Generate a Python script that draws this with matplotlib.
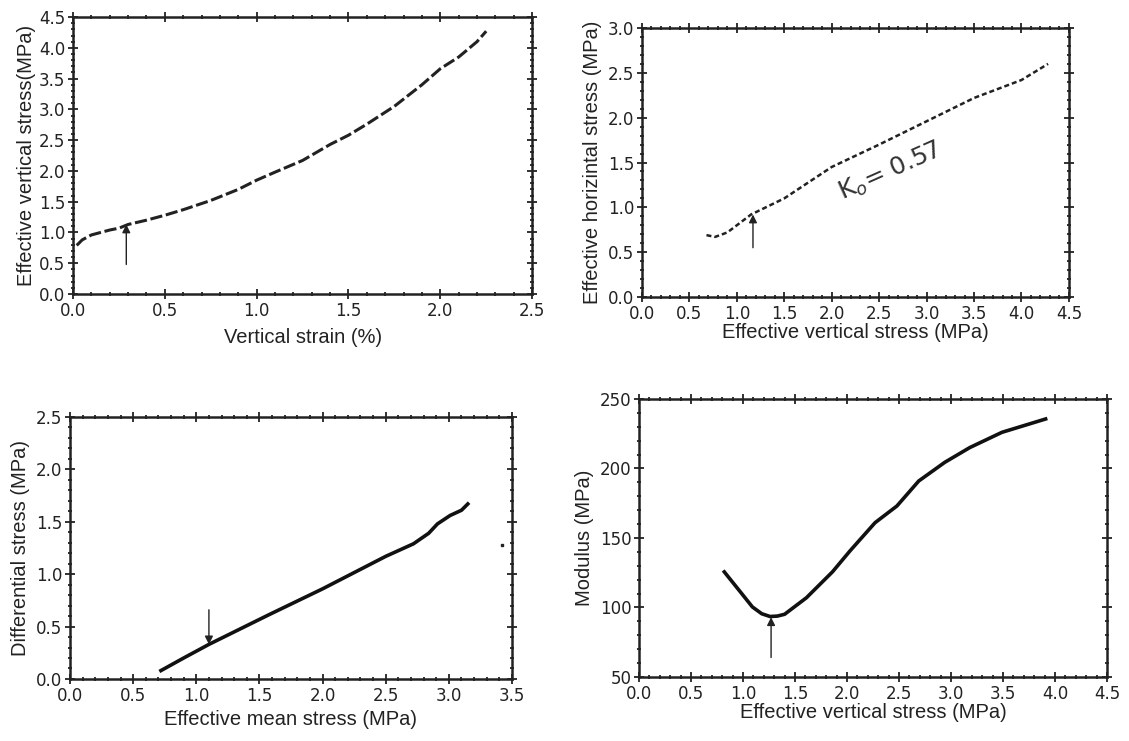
import matplotlib.pyplot as plt
from matplotlib.ticker import MultipleLocator

# panel (a): vertical strain vs effective vertical stress
strain = [0.02, 0.05, 0.10, 0.20, 0.25, 0.30, 0.40, 0.50, 0.60, 0.75, 0.90, 1.00,
          1.10, 1.25, 1.40, 1.50, 1.60, 1.75, 1.90, 2.00, 2.10, 2.20, 2.25]
sv_a = [0.79, 0.88, 0.96, 1.04, 1.07, 1.13, 1.20, 1.28, 1.37, 1.52, 1.70, 1.85,
        1.98, 2.17, 2.43, 2.58, 2.76, 3.05, 3.40, 3.66, 3.85, 4.10, 4.27]

# panel (b): effective vertical vs horizontal stress
sv_b = [0.68, 0.77, 0.90, 1.00, 1.15, 1.50, 2.00, 2.50, 3.00, 3.50, 4.00, 4.28]
sh_b = [0.69, 0.67, 0.72, 0.80, 0.92, 1.10, 1.45, 1.70, 1.96, 2.22, 2.42, 2.60]

# panel (c): effective mean stress vs differential stress
pm = [0.72, 0.90, 1.10, 1.57, 2.00, 2.50, 2.72, 2.84, 2.91, 3.01, 3.10, 3.15]
q = [0.08, 0.20, 0.33, 0.61, 0.86, 1.17, 1.29, 1.39, 1.48, 1.56, 1.61, 1.67]
stray_x = [3.42]
stray_y = [1.28]

# panel (d): effective vertical stress vs modulus
sv_d = [0.82, 0.98, 1.09, 1.18, 1.26, 1.33, 1.40, 1.61, 1.86, 2.03, 2.27, 2.48,
        2.69, 2.94, 3.18, 3.49, 3.91]
mod = [125.6, 110.7, 100.4, 95.5, 93.5, 93.8, 95.1, 107.0, 125.6, 140.8, 161.0,
       173.0, 191.0, 204.4, 215.0, 226.0, 235.6]

plt.rcParams['font.family'] = ['DejaVu Sans']

fig = plt.figure(figsize=(11.29, 7.41), dpi=100)
ax1 = fig.add_axes([0.0647, 0.6032, 0.4066, 0.3738])
ax2 = fig.add_axes([0.5686, 0.5992, 0.3782, 0.3630])
ax3 = fig.add_axes([0.0620, 0.0837, 0.3915, 0.3536])
ax4 = fig.add_axes([0.5660, 0.0864, 0.4145, 0.3752])

lab = dict(fontsize=14.5, family='Liberation Sans', color='#222222')


def style(ax, xmaj, ymaj, xmin, ymin):
    ax.xaxis.set_major_locator(MultipleLocator(xmaj))
    ax.yaxis.set_major_locator(MultipleLocator(ymaj))
    ax.xaxis.set_minor_locator(MultipleLocator(xmin))
    ax.yaxis.set_minor_locator(MultipleLocator(ymin))
    ax.tick_params(which='both', direction='inout', top=True, right=True,
                   colors='#222222', labelsize=12, pad=2)
    ax.tick_params(which='major', length=7, width=1.3)
    ax.tick_params(which='minor', length=3.5, width=1.3)
    for s in ax.spines.values():
        s.set_linewidth(1.8)
        s.set_color('#222222')


def arrow(ax, x, y0, y1):
    ax.annotate('', xy=(x, y1), xytext=(x, y0),
                arrowprops=dict(arrowstyle='-|>', lw=1.0, color='#222222',
                                mutation_scale=12, shrinkA=0, shrinkB=0))


# (a)
ax1.plot(strain, sv_a, color='#222222', lw=2.2, ls=(0, (4, 1.2)))
arrow(ax1, 0.29, 0.48, 1.13)
ax1.set_xlim(0, 2.5)
ax1.set_ylim(0, 4.5)
style(ax1, 0.5, 0.5, 0.1, 0.1)
ax1.xaxis.set_major_formatter('{x:.1f}')
ax1.yaxis.set_major_formatter('{x:.1f}')
ax1.set_xlabel('Vertical strain (%)', labelpad=6, **lab)
ax1.set_ylabel('Effective vertical stress(MPa)', labelpad=2, **lab)

# (b)
ax2.plot(sv_b, sh_b, color='#222222', lw=1.8, ls=(0, (2, 1.2)))
arrow(ax2, 1.17, 0.55, 0.92)
ax2.text(2.62, 1.40, 'K$_o$= 0.57', rotation=24, fontsize=18, ha='center',
         va='center', color='#333333', family='DejaVu Sans')
ax2.set_xlim(0, 4.5)
ax2.set_ylim(0, 3.0)
style(ax2, 0.5, 0.5, 0.1, 0.1)
ax2.xaxis.set_major_formatter('{x:.1f}')
ax2.yaxis.set_major_formatter('{x:.1f}')
ax2.set_xlabel('Effective vertical stress (MPa)', labelpad=0, **lab)
ax2.set_ylabel('Effective horizintal stress (MPa)', labelpad=4, **lab)

# (c)
ax3.plot(pm, q, color='#111111', lw=2.6, solid_joinstyle='round')
ax3.plot(stray_x, stray_y, 's', color='#222222', ms=2)
arrow(ax3, 1.10, 0.66, 0.33)
ax3.set_xlim(0, 3.5)
ax3.set_ylim(0, 2.5)
style(ax3, 0.5, 0.5, 0.1, 0.1)
ax3.xaxis.set_major_formatter('{x:.1f}')
ax3.yaxis.set_major_formatter('{x:.1f}')
ax3.set_xlabel('Effective mean stress (MPa)', labelpad=4, **lab)
ax3.set_ylabel('Differential stress (MPa)', labelpad=4, **lab)

# (d)
ax4.plot(sv_d, mod, color='#111111', lw=2.6, solid_joinstyle='round')
arrow(ax4, 1.27, 64, 93)
ax4.set_xlim(0, 4.5)
ax4.set_ylim(50, 250)
style(ax4, 0.5, 50, 0.1, 10)
ax4.xaxis.set_major_formatter('{x:.1f}')
ax4.set_xlabel('Effective vertical stress (MPa)', labelpad=0, **lab)
ax4.set_ylabel('Modulus (MPa)', labelpad=4, **lab)

fig.savefig('out.png', dpi=100)
